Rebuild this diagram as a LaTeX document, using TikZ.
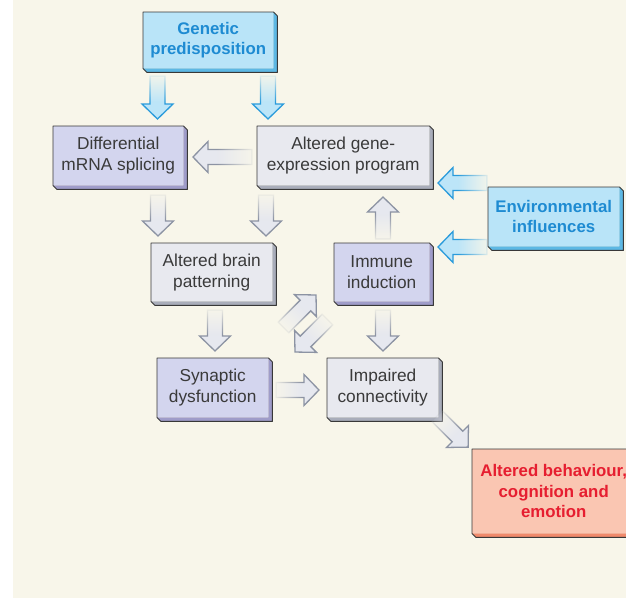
\documentclass[tikz,border=0pt]{standalone}
\usepackage{fontspec}
\setmainfont{Liberation Sans}
\usetikzlibrary{fadings}
\definecolor{cream}{HTML}{F8F6EA}
\definecolor{txtgrey}{HTML}{3A3A3A}
\definecolor{blueface}{HTML}{B9E4F8}
\definecolor{blueside}{HTML}{5DB8E4}
\definecolor{bluetxt}{HTML}{1E8BD2}
\definecolor{greyface}{HTML}{E8E9EF}
\definecolor{greyside}{HTML}{A9ADBA}
\definecolor{lavface}{HTML}{D3D5EE}
\definecolor{lavside}{HTML}{9F9CC9}
\definecolor{salface}{HTML}{FAC6B2}
\definecolor{salside}{HTML}{F08A6C}
\definecolor{redtxt}{HTML}{E61E30}
\definecolor{arrgreyline}{HTML}{8C93A3}
\definecolor{arrgreyfill}{HTML}{E6E8EF}
\definecolor{arrblueline}{HTML}{2A9BDB}
\definecolor{arrbluefill}{HTML}{BCE5F8}
\pgfdeclarehorizontalshading{tailfadesh}{100bp}{color(0bp)=(black); color(22bp)=(black); color(55bp)=(white); color(100bp)=(white)}
\tikzfading[name=tailfade, shade, shading=tailfadesh]
\tikzset{
  plaintxt/.style={font=\fontsize{17.3}{21}\selectfont, text=txtgrey},
  boldtxt/.style={font=\fontsize{16.8}{20.5}\selectfont\bfseries},
  boxline/.style={draw=black!78, line width=0.9pt, line join=round},
  greyfacebox/.style={plaintxt, fill=greyface},
  lavfacebox/.style={plaintxt, fill=lavface},
  bluefacebox/.style={boldtxt, text=bluetxt, fill=blueface},
  salfacebox/.style={boldtxt, text=redtxt, fill=salface},
  greysidefill/.style={fill=greyside},
  lavsidefill/.style={fill=lavside},
  bluesidefill/.style={fill=blueside},
  salsidefill/.style={fill=salside},
  greyarr/.style={draw=arrgreyline, fill=arrgreyfill, line width=1.3pt, line join=miter, path fading=tailfade, fit fading=true},
  bluearr/.style={draw=arrblueline, fill=arrbluefill, line width=1.3pt, line join=miter, path fading=tailfade, fit fading=true},
}
% #1 name, #2 nw corner, #3 width, #4 height, #5 kind, #6 text
\newcommand\threedbox[6]{%
  \node[#5facebox, inner sep=0pt, align=center, minimum width=#3pt, minimum height=#4pt, anchor=north west] (#1) at #2 {#6};
  \fill[#5sidefill] (#1.north east) -- ++(4,4) -- ([shift={(4,4)}]#1.south east) -- ([shift={(4,4)}]#1.south west) -- (#1.south west) -- (#1.south east) -- cycle;
  \draw[boxline] (#1.north west) -- (#1.north east) -- ++(4,4) -- ([shift={(4,4)}]#1.south east) -- ([shift={(4,4)}]#1.south west) -- (#1.south west) -- cycle;
}
% #1 style, #2 tail coordinate, #3 angle, #4 length
\newcommand\blockarr[4]{%
  \begin{scope}[transform canvas={shift={(#2)}, rotate=#3}]
    \path[#1] (0,-7.5) -- (#4-15,-7.5) -- (#4-15,-15.5) -- (#4,0) -- (#4-15,15.5) -- (#4-15,7.5) -- (0,7.5) -- cycle;
  \end{scope}}
\begin{document}
\begin{tikzpicture}[x=1pt, y=-1pt]
\useasboundingbox (0,0) rectangle (626,598);
\fill[white] (0,0) rectangle (626,598);
\fill[cream] (13,0) rectangle (626,598);

\threedbox{gen}{(143,12)}{130}{56}{blue}{Genetic\\predisposition}
\threedbox{spl}{(53,126)}{130}{59}{lav}{Differential\\mRNA splicing}
\threedbox{alt}{(257,126)}{172}{59}{grey}{Altered gene-\\expression program}
\threedbox{env}{(488,187)}{131}{59}{blue}{Environmental\\influences}
\threedbox{brain}{(151,243)}{121}{58}{grey}{Altered brain\\patterning}
\threedbox{imm}{(334,243)}{95}{58}{lav}{Immune\\induction}
\threedbox{syn}{(157,358)}{111}{59}{lav}{Synaptic\\dysfunction}
\threedbox{imp}{(327,358)}{111}{59}{grey}{Impaired\\connectivity}
\threedbox{beh}{(472,449)}{163}{84}{sal}{Altered behaviour,\\cognition and\\emotion}

\coordinate (tGenA) at (157.5,76);
\coordinate (tGenB) at (268,76);
\coordinate (tAltSpl) at (252,157);
\coordinate (tSplBrain) at (158,195);
\coordinate (tAltBrain) at (266,195);
\coordinate (tImmAlt) at (383,239);
\coordinate (tEnvA) at (487,183);
\coordinate (tEnvB) at (487,247);
\coordinate (tBrainSyn) at (215,310);
\coordinate (tImmImp) at (383,310);
\coordinate (tDiagUp) at (283.5,327.5);
\coordinate (tDiagDown) at (327.5,319.5);
\coordinate (tSynImp) at (276,390);
\coordinate (tImpBeh) at (437,416);

\blockarr{bluearr}{tGenA}{-90}{43}
\blockarr{bluearr}{tGenB}{-90}{43}
\blockarr{greyarr}{tAltSpl}{180}{59}
\blockarr{greyarr}{tSplBrain}{-90}{41}
\blockarr{greyarr}{tAltBrain}{-90}{41}
\blockarr{greyarr}{tImmAlt}{90}{42}
\blockarr{bluearr}{tEnvA}{180}{49}
\blockarr{bluearr}{tEnvB}{180}{49}
\blockarr{greyarr}{tBrainSyn}{-90}{41}
\blockarr{greyarr}{tImmImp}{-90}{41}
\blockarr{greyarr}{tDiagUp}{45}{46}
\blockarr{greyarr}{tDiagDown}{-135}{46}
\blockarr{greyarr}{tSynImp}{0}{43}
\blockarr{greyarr}{tImpBeh}{-45}{44}
\end{tikzpicture}
\end{document}
